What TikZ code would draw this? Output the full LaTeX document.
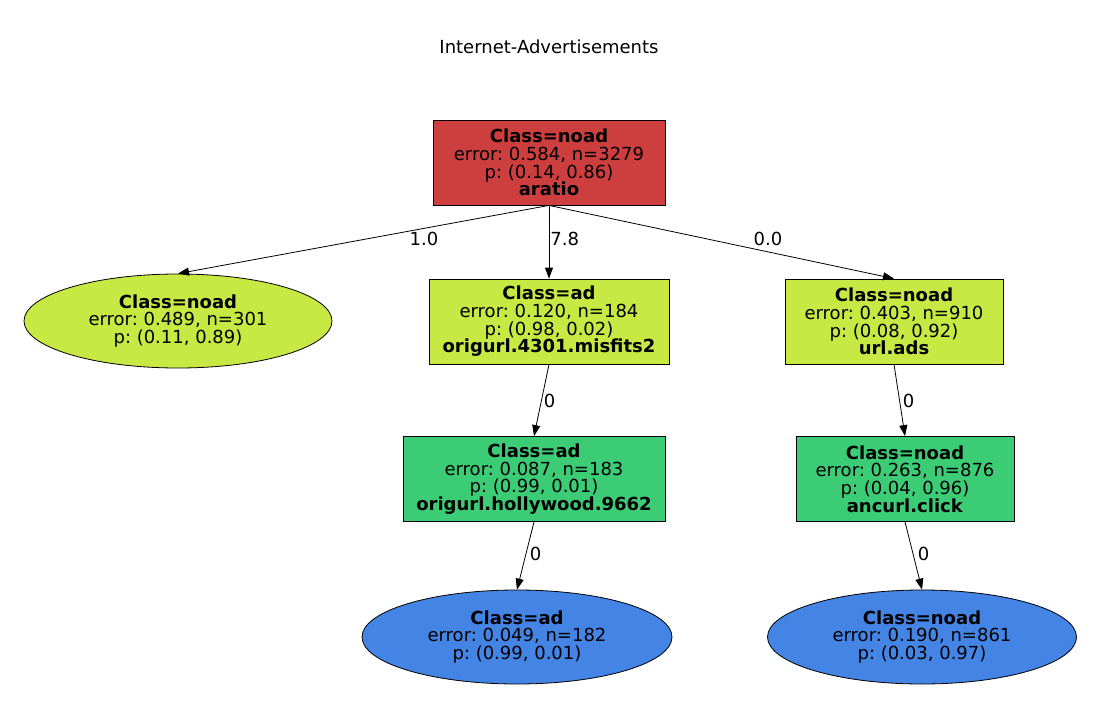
\documentclass[tikz,border=0pt]{standalone}
\usepackage{fontspec}
\setmainfont{DejaVu Sans}
\usetikzlibrary{shapes.geometric,arrows.meta}
\definecolor{cred}{RGB}{205,63,63}
\definecolor{cyel}{RGB}{200,232,67}
\definecolor{cgrn}{RGB}{60,204,118}
\definecolor{cblu}{RGB}{67,132,228}
\begin{document}
\frenchspacing
\begin{tikzpicture}[x=1pt,y=-1pt,
  base/.style={draw=black, line width=0.8pt, align=center, font=\fontsize{18}{17.7}\selectfont, inner sep=0pt},
  box/.style={base, rectangle, minimum height=85pt},
  leaf/.style={base, ellipse, minimum width=308pt, minimum height=94pt},
  edge/.style={line width=0.8pt, -{Triangle[length=11pt,width=8pt]}},
  lbl/.style={font=\fontsize{18}{18}\selectfont, inner sep=0pt}]
\useasboundingbox (0,0) rectangle (1101,709);
\node[font=\fontsize{18}{18}\selectfont] (title) at (549,47) {Internet-Advertisements};
\node[box, fill=cred, minimum width=232pt] (root) at (549,162.5) {\textbf{Class=noad}\\error: 0.584, n=3279\\p: (0.14, 0.86)\\\textbf{aratio}};
\node[leaf, fill=cyel] (leafL) at (178,321) {\textbf{Class=noad}\\error: 0.489, n=301\\p: (0.11, 0.89)};
\node[box, fill=cyel, minimum width=240pt] (mid) at (549,321.5) {\textbf{Class=ad}\\error: 0.120, n=184\\p: (0.98, 0.02)\\\textbf{origurl.4301.misfits2}};
\node[box, fill=cyel, minimum width=218pt] (right) at (894,321.5) {\textbf{Class=noad}\\error: 0.403, n=910\\p: (0.08, 0.92)\\\textbf{url.ads}};
\node[box, fill=cgrn, minimum width=262pt] (mid2) at (534,479) {\textbf{Class=ad}\\error: 0.087, n=183\\p: (0.99, 0.01)\\\textbf{origurl.hollywood.9662}};
\node[box, fill=cgrn, minimum width=218pt] (right2) at (905,479) {\textbf{Class=noad}\\error: 0.263, n=876\\p: (0.04, 0.96)\\\textbf{ancurl.click}};
\node[leaf, fill=cblu, minimum width=310pt] (bot) at (517,637) {\textbf{Class=ad}\\error: 0.049, n=182\\p: (0.99, 0.01)};
\node[leaf, fill=cblu, minimum width=309pt] (botR) at (922,637) {\textbf{Class=noad}\\error: 0.190, n=861\\p: (0.03, 0.97)};
\draw[edge] (root.south) -- (leafL.north) node[lbl] at (424,239) {1.0};
\draw[edge] (root.south) -- (mid.north) node[lbl, anchor=west] at (550,239) {7.8};
\draw[edge] (root.south) -- (right.north) node[lbl] at (768,239) {0.0};
\draw[edge] (mid.south) -- (mid2.north) node[lbl, anchor=west] at (543.5,401) {0};
\draw[edge] (right.south) -- (right2.north) node[lbl, anchor=west] at (902.5,401) {0};
\draw[edge] (mid2.south) -- (bot.north) node[lbl, anchor=west] at (529.5,554) {0};
\draw[edge] (right2.south) -- (botR.north) node[lbl, anchor=west] at (917.5,554) {0};
\end{tikzpicture}
\end{document}
